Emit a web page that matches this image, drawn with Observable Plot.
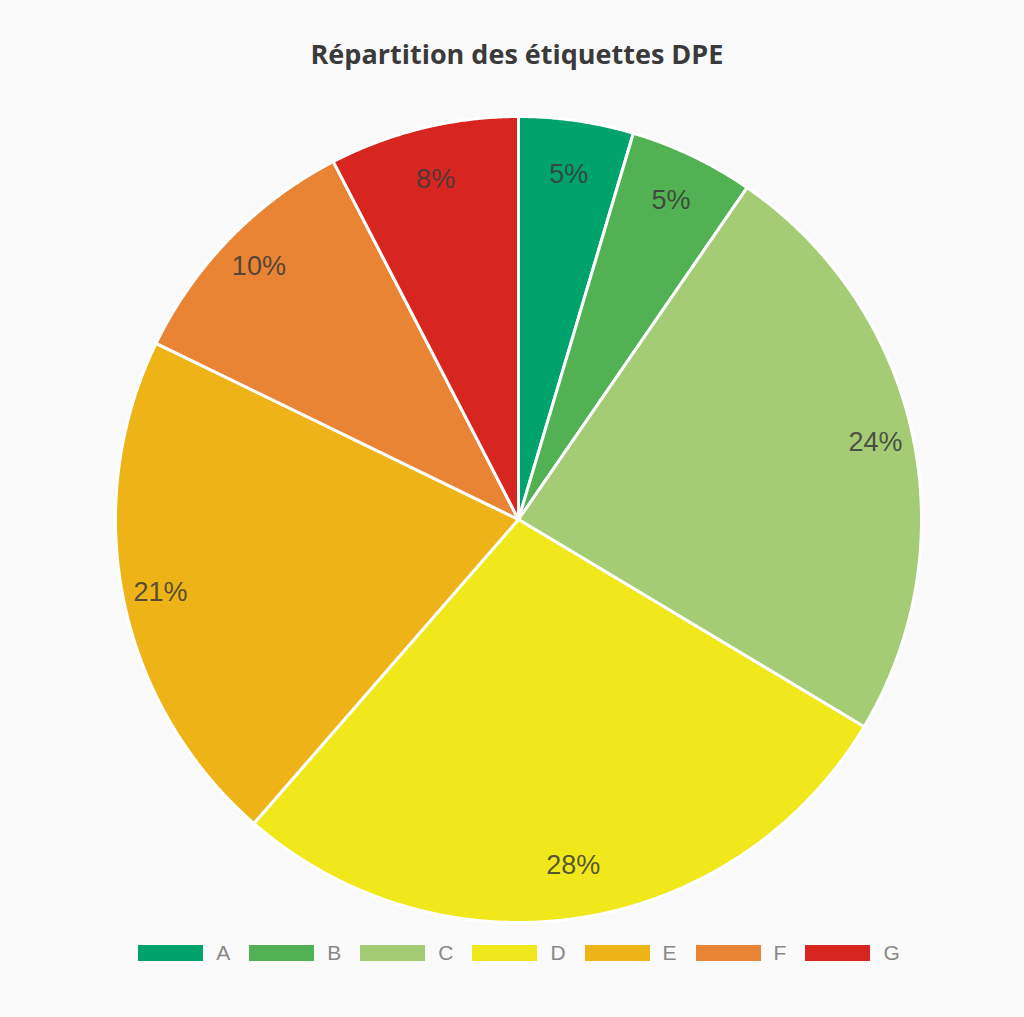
<!DOCTYPE html>
<html>
<head>
<meta charset="utf-8">
<script src="https://cdn.jsdelivr.net/npm/d3@7"></script>
<script src="https://cdn.jsdelivr.net/npm/@observablehq/plot@0.6"></script>
<style>
  html, body { margin: 0; padding: 0; background: #fafafa; }
  #wrap { width: 1024px; }
  #title {
    height: 56px; padding-top: 40px; line-height: 1;
    font-family: "Open Sans", sans-serif; font-weight: 700; font-size: 27px;
    color: #3a3a3a; text-align: center; padding-left: 10px;
  }
  #chart svg { display: block; }
  #legend {
    display: flex; justify-content: center; align-items: center;
    padding-top: 13px; height: 16px; padding-left: 14px;
    font-family: "Liberation Sans", Arial, sans-serif; font-size: 21px; color: #888;
  }
  .item { display: flex; align-items: center; }
  .sw { width: 65px; height: 16px; margin-right: 13px; }
  .lab { margin-right: 19px; line-height: 16px; }
  .item:last-child .lab { margin-right: 0; }
</style>
</head>
<body>
<div id="wrap">
  <div id="title">Répartition des étiquettes DPE</div>
  <div id="chart"></div>
  <div id="legend"></div>
</div>
<script>
const labels = ["A", "B", "C", "D", "E", "F", "G"];
const values = [4.6, 5.0, 24.0, 27.8, 20.8, 10.2, 7.6];
const colors = ["#00a36b", "#51b153", "#a3cc75", "#f0e81b", "#eeb417", "#e88434", "#d7261f"];

const W = 1024, H = 836;
const R = 403, R0 = 337, HH = 9;
const labelFont = "27px 'Liberation Sans'";

const total = d3.sum(values);
const ctx = document.createElement("canvas").getContext("2d");
ctx.font = labelFont;

const slicePts = [];
const labelPts = [];
let acc = 0;
values.forEach((v, i) => {
  const a0 = acc / total * 2 * Math.PI;
  acc += v;
  const a1 = acc / total * 2 * Math.PI;
  slicePts.push({k: labels[i], x: 0, y: 0});
  const n = Math.max(4, Math.ceil((a1 - a0) / (Math.PI / 720)));
  for (let j = 0; j <= n; j++) {
    const a = a0 + (a1 - a0) * j / n;
    slicePts.push({k: labels[i], x: R * Math.sin(a), y: R * Math.cos(a)});
  }
  const m = (a0 + a1) / 2;
  const ux = Math.sin(m), uy = Math.cos(m);
  const txt = Math.round(v / total * 100) + "%";
  const hw = ctx.measureText(txt).width / 2;
  const rr = R0 + hw * Math.abs(ux) + HH * Math.abs(uy);
  labelPts.push({k: labels[i], x: rr * ux, y: rr * uy, t: txt});
});

const chart = Plot.plot({
  width: W,
  height: H,
  margin: 0,
  x: {domain: [-518, 506], axis: null},
  y: {domain: [-413, 423], axis: null},
  color: {domain: labels, range: colors},
  style: {background: "transparent"},
  marks: [
    Plot.line(slicePts, {
      x: "x", y: "y", z: "k", fill: "k",
      stroke: "white", strokeWidth: 3, strokeLinejoin: "round",
      curve: "linear-closed"
    }),
    Plot.text(labelPts, {
      x: "x", y: "y", text: "t",
      fontSize: 27, fontFamily: "Liberation Sans, Arial, sans-serif",
      fill: "#3a3a3a", fillOpacity: 0.85
    })
  ]
});
document.getElementById("chart").appendChild(chart);

const legend = document.getElementById("legend");
labels.forEach((l, i) => {
  const it = document.createElement("div");
  it.className = "item";
  const sw = document.createElement("div");
  sw.className = "sw";
  sw.style.background = colors[i];
  const lb = document.createElement("span");
  lb.className = "lab";
  lb.textContent = l;
  it.appendChild(sw);
  it.appendChild(lb);
  legend.appendChild(it);
});
</script>
</body>
</html>
